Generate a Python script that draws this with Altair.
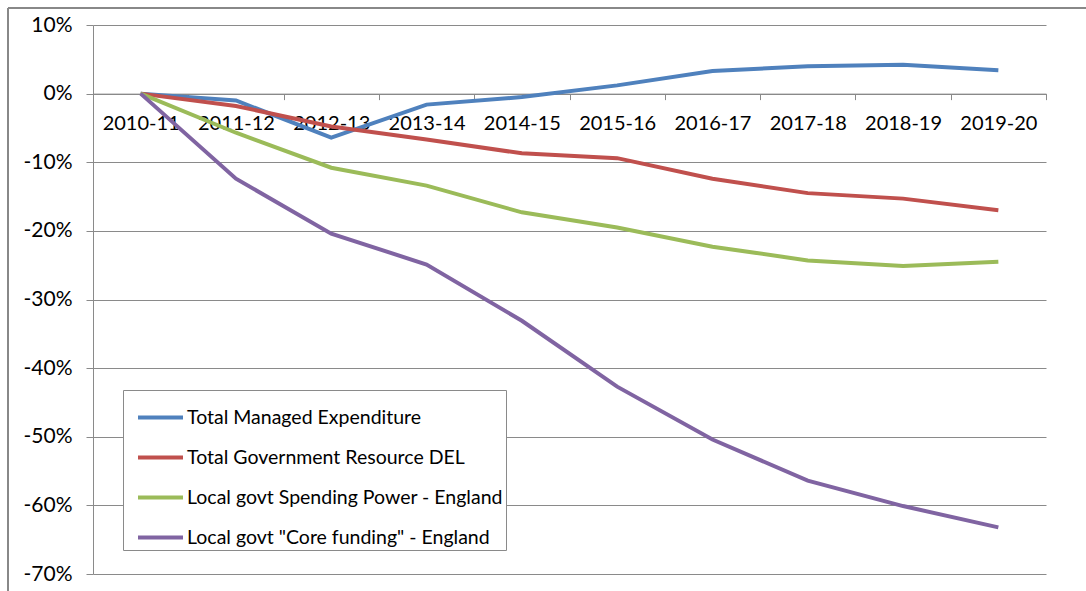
import altair as alt
import pandas as pd

years = ["2010-11", "2011-12", "2012-13", "2013-14", "2014-15",
         "2015-16", "2016-17", "2017-18", "2018-19", "2019-20"]
series_names = ["Total Managed Expenditure",
                "Total Government Resource DEL",
                "Local govt Spending Power - England",
                'Local govt "Core funding" - England']
tme = [0.0, -1.0, -6.4, -1.6, -0.5, 1.2, 3.3, 4.0, 4.2, 3.4]
del_ = [0.0, -1.8, -4.8, -6.7, -8.7, -9.4, -12.4, -14.5, -15.3, -17.0]
spending = [0.0, -5.7, -10.8, -13.4, -17.3, -19.5, -22.3, -24.3, -25.1, -24.5]
core = [0.0, -12.4, -20.4, -24.9, -33.1, -42.7, -50.4, -56.4, -60.1, -63.2]
colors = ["#4F81BD", "#C0504D", "#9BBB59", "#8064A2"]
y_min, y_max = -70, 10

rows = []
for name, vals in zip(series_names, [tme, del_, spending, core]):
    for yr, v in zip(years, vals):
        rows.append({"year": yr, "series": name, "value": v})
df = pd.DataFrame(rows)

W, H = 953, 549
FONT = "Lato"
GRID = "#8a8a8a"
zero_offset = -H * (0 - y_min) / (y_max - y_min)

lines = alt.Chart(df).mark_line(strokeWidth=4).encode(
    x=alt.X("year:N", sort=years, bandPosition=0.5,
            scale=alt.Scale(type="band", paddingInner=0, paddingOuter=0),
            axis=alt.Axis(title=None, orient="bottom", offset=zero_offset,
                          tickBand="extent", labelAngle=0, grid=False,
                          domain=True, domainColor=GRID, tickColor=GRID,
                          tickSize=6, labelPadding=14, labelFontSize=20,
                          labelFont=FONT, labelColor="#000",
                          labelBaseline="top")),
    y=alt.Y("value:Q", scale=alt.Scale(domain=[y_min, y_max], nice=False, zero=False),
            axis=alt.Axis(title=None, values=list(range(y_min, y_max + 1, 10)),
                          labelExpr="datum.value + '%'", grid=True,
                          gridColor=GRID, gridOpacity=1, domainColor=GRID,
                          tickColor=GRID, tickSize=7, labelPadding=14,
                          labelFontSize=21, labelFont=FONT, labelColor="#000")),
    color=alt.Color("series:N", sort=series_names,
                    scale=alt.Scale(domain=series_names, range=colors),
                    legend=alt.Legend(orient="none", legendX=30, legendY=365,
                                      title=None, symbolType="stroke",
                                      symbolSize=2025, symbolStrokeWidth=4,
                                      labelFontSize=19.5, labelFont=FONT,
                                      labelColor="#000", strokeColor=GRID,
                                      fillColor="white", padding=3,
                                      symbolOffset=10,
                                      rowPadding=6, labelOffset=2,
                                      labelLimit=500, direction="vertical")),
    order=alt.Order("year:N")
)

frame_df = pd.DataFrame({"k": [0]})
frame_left = alt.Chart(frame_df).mark_rule(color="#888", strokeWidth=2).encode(
    x=alt.value(-85), y=alt.value(-17), y2=alt.value(H + 40))
frame_top = alt.Chart(frame_df).mark_rule(color="#888", strokeWidth=2).encode(
    x=alt.value(-85), x2=alt.value(W + 60), y=alt.value(-17))

chart = alt.layer(frame_left, frame_top, lines).properties(
    width=W, height=H,
    autosize=alt.AutoSizeParams(type="none"),
    padding={"left": 93, "top": 25, "right": 40, "bottom": 17},
    background="white"
).configure_view(stroke=None)

chart.save("out.html", embed_options={"renderer": "svg", "actions": False})
